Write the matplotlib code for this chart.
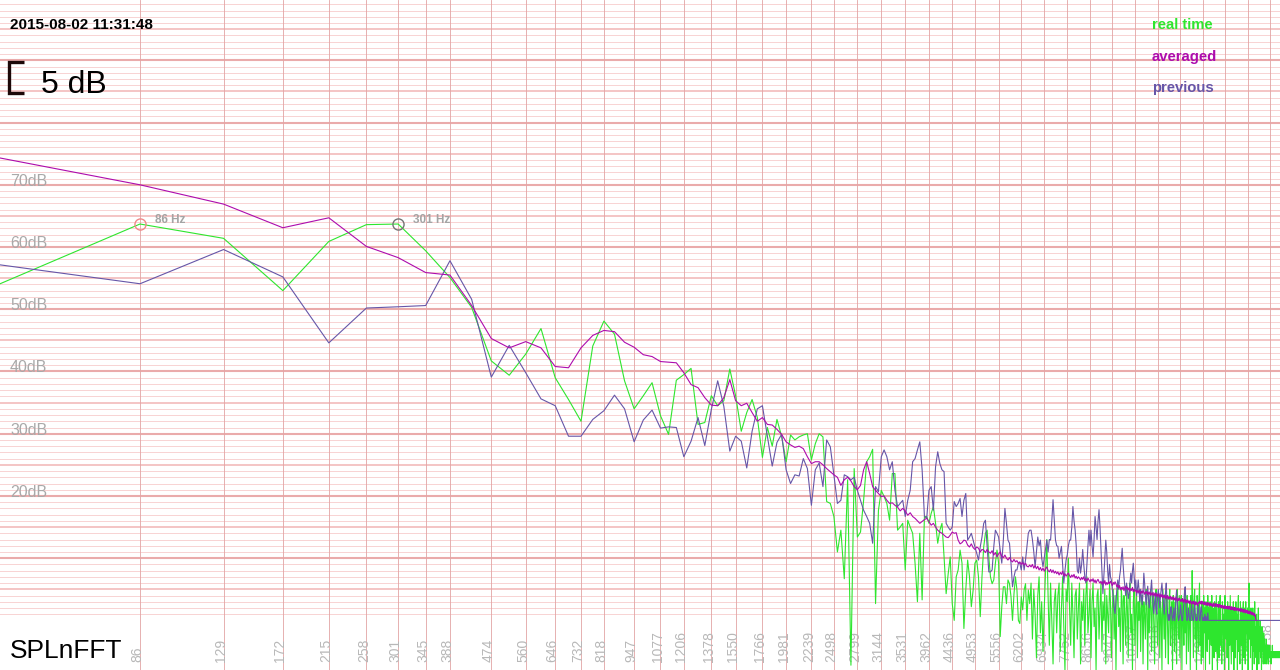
import matplotlib
matplotlib.use('Agg')
import matplotlib.pyplot as plt
import numpy as np
from matplotlib.transforms import blended_transform_factory

# FFT bin width (44.1 kHz, 1024 points); series index 0 = bin 1
BIN_HZ = 44100 / 1024

real_time = [
    53.9, 63.7, 61.4, 53.0, 60.9, 63.6, 63.7, 59.4, 55.1, 50.3,
    41.7, 39.4, 42.8, 46.9, 39.0, 35.5, 32.0, 44.1, 48.1, 46.0,
    38.5, 34.0, 36.1, 38.2, 32.9, 29.9, 38.6, 39.5, 40.5, 31.5,
    31.8, 36.1, 34.5, 35.3, 40.4, 36.1, 30.4, 33.4, 35.5, 32.6,
    26.2, 31.0, 28.0, 32.3, 29.6, 25.5, 29.8, 29.0, 29.5, 29.8,
    30.0, 25.8, 28.4, 30.0, 29.5, 19.1, 18.8, 16.7, 11.0, 14.5,
    6.7, 22.6, -7.2, 24.4, 13.4, 14.2, 19.3, 25.5, 26.3, 27.5,
    2.7, 17.7, 20.9, 19.9, 18.8, 16.1, 23.6, 23.6, 14.5, 15.0,
    15.6, 8.1, 16.1, 15.0, 14.0, 9.2, 3.0, 14.0, 3.3, 16.7,
    16.7, 15.6, 17.2, 18.3, 15.6, 12.4, 14.5, 15.6, 10.2, 4.3,
    7.5, 10.2, 2.7, 0.0, 7.0, 8.1, 11.3, 9.2, -1.3, 4.9,
    9.7, 7.0, 2.2, 4.9, 9.2, 9.7, 7.0, 0.6, 7.0, 11.8,
    14.0, 14.5, 10.2, 7.0, 5.9, 6.5, 9.2, 11.3, 9.2, -2.6,
    2.2, 5.4, 5.4, 2.7, 6.5, 5.9, 3.8, 0.0, 4.3, 7.0,
    4.9, 0.0, -0.5, 3.8, 1.7, 4.9, 5.9, 0.0, 4.9, 2.7,
    6, -3, 5, 1, -6, 4, 7, -2, 3, -5,
    2, 8, 13, 4, -4, 6, 0, -7, 3, 5,
    -2, 4, 6, -5, 2, 7, -1, -8, 5, 3,
    10, 2, -4, 6, 1, -6, 4, 5, -3, 2,
    6, -7, 3, 0, 5, -4, 4, 7, -2, 1,
    5, -6, 3, 6, -1, 2, -8, 4, 5, -3,
    2, 6, -5, 3, 0, 5, -7, 4, 1, -2,
    6, 3, -6, 2, 5, -3, 4, -8, 3, 6,
    -1, 2, -5, 5, 3, -7, 4, 1, -4, 5,
    2, -6, 4, 6, -2, 1, -8, 3, 5, -4,
    2, 4, -6, 3, 0, 5, -5, 2, 4, -7,
    3, 1, -3, 5, 2, -8, 4, -2, 3, 5,
    -5, 2, 4, -1, -7, 3, 5, 0, -4, 2,
    4, -6, 3, 1, -8, 5, 2, -3, 4, -6,
    2, 4, -2, -7, 3, 5, -4, 1, 3, -8,
    4, 2, -5, 3, 0, -7, 5, 2, -3, 4,
    -6, 2, 4, -8, 3, 1, -4, 5, -2, 3,
    -7, 4, 2, -5, 1, 3, -8, 4, 0, 8,
    2, -6, 3, 5, -3, 1, -8, 4, 2, -5,
    3, 6, -4, 1, -7, 3, 2, -6, 4, -2,
    2, -8, 3, 1, -5, 4, -3, 2, -7, 3,
    1, -4, 4, -8, 2, 0, -6, 3, 1, -5,
    4, -2, -8, 2, 3, -6, 1, 4, -4, 0,
    -7, 3, 2, -5, 1, -8, 4, 0, -3, 2,
    -6, 3, 1, -8, 2, -4, 4, -1, -7, 2,
    1, -5, 3, -8, 0, 2, -6, 3, -3, 1,
    -8, 2, 4, -5, 0, -7, 3, 1, -4, 2,
    -8, 1, 3, -6, 0, 2, -7, 3, -2, 1,
    -5, 2, -8, 4, 6, -3, 1, -6, 2, -4,
    0, -8, 2, -5, 1, -7, 3, -3, -1, -6,
    1, -8, 0, -4, 2, -7, -1, -5, 0, -6,
    -2, -8, -1, -5, -3, -7, -2, -6, -3, -7,
    -4, -6, -3, -7, -4, -6, -4, -7, -5, -6,
    -4, -6, -5, -7, -5, -6, -4, -6, -5, -6,
    -5, -6, -5, -6, -5, -6, -5, -6, -5, -6,
    -5, -6, -5, -6, -5, -6, -5, -5, -6, -5, -6, -5,
]

averaged = [
    74.4, 70.0, 66.9, 63.1, 64.7, 60.1, 58.3, 55.9, 55.5, 50.6,
    45.3, 43.8, 44.8, 43.8, 40.8, 40.6, 43.8, 45.8, 46.6, 46.4,
    44.7, 43.9, 42.7, 42.4, 41.6, 41.5, 41.4, 39.8, 37.9, 37.4,
    35.8, 34.6, 34.5, 35.8, 38.7, 35.3, 34.5, 34.9, 33.4, 32.0,
    32.6, 31.5, 31.4, 30.7, 29.9, 28.7, 28.2, 27.8, 28.0, 27.6,
    26.3, 25.2, 25.5, 25.5, 25.0, 24.4, 23.9, 23.4, 23.0, 21.7,
    22.6, 23.0, 22.4, 21.5, 21.0, 21.7, 24.2, 25.5, 23.6, 21.5,
    20.9, 20.4, 19.9, 20.0, 19.3, 18.8, 18.9, 18.5, 18.2, 17.6,
    18.0, 17.6, 16.9, 17.3, 16.7, 16.4, 16.0, 15.6, 15.9, 16.2,
    16.4, 15.9, 15.3, 15.6, 15.0, 14.5, 14.2, 14.0, 13.7, 13.4,
    13.3, 13.7, 14.2, 14.0, 14.1, 12.9, 12.3, 12.5, 12.9, 12.8,
    12.1, 11.8, 12.3, 11.7, 11.4, 11.8, 11.6, 11.0, 11.4, 11.3,
    10.9, 11.4, 11.0, 10.8, 11.2, 10.5, 10.9, 10.2, 10.7, 11.0,
    10.3, 10.1, 10.5, 10.0, 9.7, 10.1, 9.6, 9.4, 9.8, 9.4,
    9.6, 9.2, 9.4, 9.0, 9.3, 8.9, 9.2, 8.7, 8.6, 8.9,
    8.6, 9.0, 8.4, 8.8, 8.3, 8.7, 8.1, 8.5, 8.0, 8.4,
    7.9, 8.3, 8.6, 8.0, 7.8, 8.2, 7.7, 8.1, 7.6, 7.9,
    7.5, 7.8, 7.3, 7.7, 7.4, 7.9, 7.2, 7.5, 7.1, 7.4,
    7.6, 7.2, 6.9, 7.3, 7.0, 7.4, 6.8, 7.1, 6.7, 7.0,
    6.8, 6.5, 6.9, 6.6, 7.0, 6.4, 6.7, 6.3, 6.8, 6.5,
    6.2, 6.6, 6.3, 6.7, 6.1, 6.5, 6.0, 6.4, 6.6, 6.2,
    6.0, 6.3, 5.8, 6.2, 5.9, 6.4, 5.7, 6.1, 5.8, 6.2,
    5.9, 6.3, 6.0, 5.6, 6.1, 5.8, 6.2, 5.9, 5.4, 5.7,
    5.2, 5.6, 4.9, 5.3, 5.0, 5.4, 4.8, 5.2, 5.5, 5.0,
    5.3, 4.9, 5.2, 4.7, 5.1, 4.8, 5.3, 4.6, 5.0, 4.7,
    4.9, 4.5, 4.8, 4.4, 4.9, 4.6, 4.3, 4.7, 4.4, 4.8,
    4.5, 4.2, 4.6, 4.3, 4.7, 4.1, 4.5, 4.2, 4.6, 4.0,
    4.4, 4.1, 4.5, 3.9, 4.3, 4.0, 4.4, 3.8, 4.2, 3.9,
    4.3, 3.7, 4.1, 3.8, 4.2, 3.6, 4.0, 3.7, 4.1, 3.5,
    3.9, 3.6, 4.0, 3.4, 3.8, 3.5, 3.9, 3.3, 3.7, 3.4,
    3.8, 3.3, 3.6, 3.2, 3.7, 3.4, 3.1, 3.5, 3.2, 3.6,
    3.3, 3.0, 3.4, 3.1, 3.5, 2.9, 3.3, 3.0, 3.4, 2.8,
    3.2, 2.9, 3.3, 2.8, 3.1, 2.7, 3.2, 2.9, 2.6, 3.0,
    2.7, 3.1, 2.6, 2.9, 2.5, 3.0, 2.6, 2.8, 2.4, 2.9,
    2.8, 3.1, 2.7, 3.0, 2.6, 3.1, 2.7, 2.9, 2.5, 3.0,
    2.6, 2.9, 2.5, 2.8, 2.4, 2.9, 2.5, 2.7, 2.3, 2.8,
    2.4, 2.7, 2.3, 2.6, 2.2, 2.8, 2.4, 2.6, 2.2, 2.7,
    2.3, 2.6, 2.2, 2.5, 2.1, 2.6, 2.2, 2.5, 2.1, 2.4,
    2.0, 2.4, 2.1, 2.3, 1.9, 2.4, 2.0, 2.3, 1.9, 2.2,
    2.0, 2.3, 1.8, 2.2, 1.9, 2.3, 1.8, 2.1, 1.7, 2.2,
    1.8, 2.1, 1.7, 2.0, 1.6, 2.1, 1.7, 2.0, 1.6, 1.9,
    1.7, 2.0, 1.5, 1.9, 1.6, 1.8, 1.4, 1.9, 1.5, 1.8,
    1.4, 1.7, 1.3, 1.8, 1.4, 1.6, 1.2, 1.7, 1.3, 1.5,
    1.2, 1.6, 1.1, 1.4, 1.2, 1.5, 1.0, 1.4, 1.1, 1.3,
    0.9, 1.3, 1.0, 1.2, 0.8, 1.1, 0.7, 0.9, 0.3, 0.0,
]

previous = [
    57.2, 54.1, 59.6, 55.2, 44.6, 50.2, 50.4, 50.6, 57.8, 51.6,
    39.1, 44.2, 39.8, 35.6, 34.5, 29.6, 29.6, 32.3, 33.7, 36.2,
    34.0, 28.7, 32.2, 33.8, 30.9, 31.1, 31.0, 26.3, 28.8, 32.6,
    28.1, 33.9, 38.5, 34.4, 27.2, 29.6, 28.8, 24.5, 30.4, 34.0,
    34.5, 29.6, 24.8, 28.6, 29.9, 24.2, 22.0, 23.4, 23.2, 26.0,
    24.4, 18.5, 24.2, 25.3, 21.5, 29.0, 27.9, 23.4, 18.8, 19.3,
    23.4, 23.1, 22.6, 23.0, 20.9, 19.3, 17.7, 16.7, 15.6, 12.4,
    21.5, 20.7, 26.3, 27.4, 26.3, 24.2, 25.5, 20.9, 18.3, 18.8,
    19.3, 16.7, 19.3, 20.9, 25.5, 26.0, 27.4, 28.7, 24.2, 16.7,
    16.4, 20.9, 21.5, 17.7, 24.7, 27.1, 25.2, 24.2, 23.9, 15.6,
    15.0, 14.5, 15.0, 19.1, 18.3, 18.8, 19.6, 16.7, 19.3, 20.4,
    12.9, 13.4, 14.0, 12.9, 11.8, 10.8, 9.7, 11.8, 13.4, 15.6,
    16.1, 11.8, 7.8, 7.8, 8.1, 11.8, 14.5, 14.0, 13.4, 11.3,
    9.2, 12.9, 18.0, 15.6, 12.9, 12.4, 9.2, 5.4, 7.0, 8.1,
    8.1, 9.2, 9.2, 8.1, 10.2, 8.1, 9.7, 11.8, 14.0, 14.5,
    14.5, 13.0, 11.0, 8.6, 11.0, 13.4, 12.0, 12.9, 10.0, 8.6,
    10.0, 11.5, 12.9, 11.0, 13.0, 12.9, 16.0, 19.4, 16.0, 12.9,
    12.0, 11.9, 10.0, 11.0, 11.9, 9.0, 6.0, 8.0, 9.7, 10.5,
    12.0, 12.9, 12.9, 15.0, 18.3, 16.0, 14.5, 12.0, 8.0, 7.6,
    10.0, 7.6, 9.0, 11.4, 9.0, 7.0, 6.0, 9.0, 12.0, 14.5,
    12.0, 14.5, 12.0, 10.2, 13.0, 16.7, 15.0, 13.0, 16.0, 17.8,
    15.0, 11.4, 8.0, 4.3, 7.0, 10.0, 12.9, 11.0, 8.0, 6.0,
    9.0, 7.0, 6.5, 5.0, 3.8, 2.0, 1.1, 3.0, 5.0, 6.5,
    5.0, 7.0, 8.0, 10.0, 11.6, 9.0, 7.0, 5.4, 4.0, 6.0,
    5.0, 3.5, 4.3, 6.0, 7.6, 6.0, 8.0, 9.2, 7.0, 5.0,
    6.5, 4.0, 5.0, 6.5, 4.9, 3.0, 5.0, 3.8, 2.5, 4.5,
    7.6, 6.0, 4.0, 2.5, 4.0, 5.5, 3.3, 2.0, 4.0, 5.0,
    6.5, 4.0, 2.5, 1.1, 3.0, 4.5, 2.0, 1.0, 3.8, 5.0,
    3.5, 2.0, 4.0, 5.0, 6.0, 4.0, 3.0, 1.0, 2.5, 4.5,
    6.0, 3.0, 1.0, 0.0, 1.0, 0.0, 1.5, 2.2, 1.0, 0.0,
    0.5, 2.0, 0.0, 1.0, 3.5, 4.9, 3.0, 1.0, 0.0, 0.5,
    1.1, 2.5, 1.0, 0.0, 0.0, 1.5, 3.0, 4.5, 5.4, 3.0,
    1.0, 0.0, 0.5, 2.0, 1.0, 0.0, 0.0, 1.0, 2.5, 1.0,
    0.0, 0.0, 1.5, 3.0, 1.0, 0.0, 0.5, 0.0, 1.7, 2.5,
    1.0, 0.0, 0.0, 1.7, 2.2, 1.0, 0.0, 0.0, 0.5, 0.0,
    1.0, 0.0, 0.6, 0.0, 0.0, 1.2, 0.0, 0.0, 0.0, 0.0,
    0, 0, 0, 0, 0, 0, 0, 0, 0, 0, 0, 0, 0, 0, 0, 0, 0, 0, 0, 0,
    0, 0, 0, 0, 0, 0, 0, 0, 0, 0, 0, 0, 0, 0, 0, 0, 0, 0, 0, 0,
    0, 0, 0, 0, 0, 0, 0, 0, 0, 0, 0, 0, 0, 0, 0, 0, 0, 0, 0, 0,
    0, 0, 0, 0, 0, 0, 0, 0, 0, 0, 0, 0, 0, 0, 0, 0, 0, 0, 0, 0,
    0, 0, 0, 0, 0, 0, 0, 0, 0, 0, 0, 0, 0, 0, 0, 0, 0, 0, 0, 0,
    0, 0, 0, 0, 0, 0, 0, 0, 0, 0, 0, 0, 0, 0, 0, 0, 0, 0, 0, 0,
    0, 0, 0, 0, 0, 0, 0, 0, 0, 0, 0, 0, 0, 0, 0, 0, 0, 0, 0, 0,
    0, 0, 0, 0, 0, 0, 0, 0, 0, 0, 0, 0,
]

tick_bins = [2, 3, 4, 5, 6, 7, 8, 9, 11, 13, 15, 17, 19, 22, 25, 28, 32, 36, 41, 46,
             52, 58, 65, 73, 82, 92, 103, 115, 129, 144, 161, 180, 201, 224, 250,
             279, 311, 347, 387, 432, 482]
tick_labels = ['86', '129', '172', '215', '258', '301', '345', '388', '474', '560',
               '646', '732', '818', '947', '1077', '1206', '1378', '1550', '1766',
               '1981', '2239', '2498', '2799', '3144', '3531', '3962', '4436', '4953',
               '5556', '6202', '6934', '7752', '8656', '9647', '10767', '12016',
               '13394', '14944', '16667', '18605', '20758']
db_ticks = [20, 30, 40, 50, 60, 70]

series_names = ['real time', 'averaged', 'previous']
series_colors = ['#2ee62e', '#ad0cad', '#6656a8']

# marked peaks on the real time curve: bin, label, ring colour
peak_bins = [2, 7]
peak_labels = ['86 Hz', '301 Hz']
peak_colors = ['#f08a8a', '#757575']

plt.rcParams['font.family'] = ['Liberation Sans', 'DejaVu Sans']

fig = plt.figure(figsize=(12.8, 6.7), dpi=100)
ax = fig.add_axes([0, 0, 1, 1])
ax.set_xscale('log')
ax.set_xlim(43.66, 21766)
ax.set_ylim(-7.97, 99.7)
ax.axis('off')

# dB grid
for d in range(1, 100):
    if d % 10 == 0:
        c, w = '#eaabab', 1.5
    elif d % 5 == 0:
        c, w = '#f3c0c0', 1.3
    else:
        c, w = '#f8d3d3', 0.7
    ax.axhline(d, color=c, lw=w, zorder=1)

tick_freqs = np.array(tick_bins) * BIN_HZ
for f in tick_freqs:
    ax.axvline(f, color='#e2a4a4', lw=0.6, zorder=1.5)

for lab, f in zip(tick_labels, tick_freqs):
    ax.annotate(lab, xy=(f, 0), xycoords=('data', 'axes fraction'),
                xytext=(-2.5, 8), textcoords='offset pixels', rotation=90,
                ha='center', va='bottom', color='#b8b8b8', fontsize=10)

for d in db_ticks:
    ax.annotate(f'{d}dB', xy=(0, d), xycoords=('axes fraction', 'data'),
                xytext=(10, -1), textcoords='offset pixels', ha='left',
                va='baseline', color='#a9a9a9', fontsize=11.5)

# curves
series = [real_time, averaged, previous]
order = [3, 5, 4]
for vals, col, z in zip(series, series_colors, order):
    x = np.arange(1, len(vals) + 1) * BIN_HZ
    ax.plot(x, vals, color=col, lw=0.8, zorder=z)

for b, lab, c in zip(peak_bins, peak_labels, peak_colors):
    f = b * BIN_HZ
    v = real_time[b - 1]
    ax.plot(f, v, 'o', ms=8, mfc='none', mec=c, mew=1.0, zorder=6)
    ax.annotate(lab, xy=(f, v), xytext=(15, 4), textcoords='offset pixels',
                ha='left', va='center', color='#a4a4a4', fontsize=8.5,
                fontweight='bold')

# 5 dB scale bracket
tr = blended_transform_factory(ax.transAxes, ax.transData)
ax.plot([24 / 1280, 9 / 1280, 9 / 1280, 24 / 1280], [89.8, 89.8, 84.8, 84.8],
        transform=tr, color='#1c0808', lw=2.4, solid_joinstyle='miter',
        solid_capstyle='butt', zorder=6)

fig.text(10 / 1280, 1 - 25 / 670, '2015-08-02 11:31:48', fontsize=11,
         fontweight='bold', ha='left', va='center')
fig.text(41 / 1280, 1 - 93 / 670, '5 dB', fontsize=23, ha='left', va='baseline')
fig.text(10 / 1280, 1 - 658 / 670, 'SPLnFFT', fontsize=19, ha='left', va='baseline')

for i, (name, col) in enumerate(zip(series_names, series_colors)):
    fig.text(1152 / 1280, 1 - (25 + 31.5 * i) / 670, name, color=col,
             fontsize=10.7, fontweight='bold', ha='left', va='center')

fig.savefig('out.png', dpi=100)
